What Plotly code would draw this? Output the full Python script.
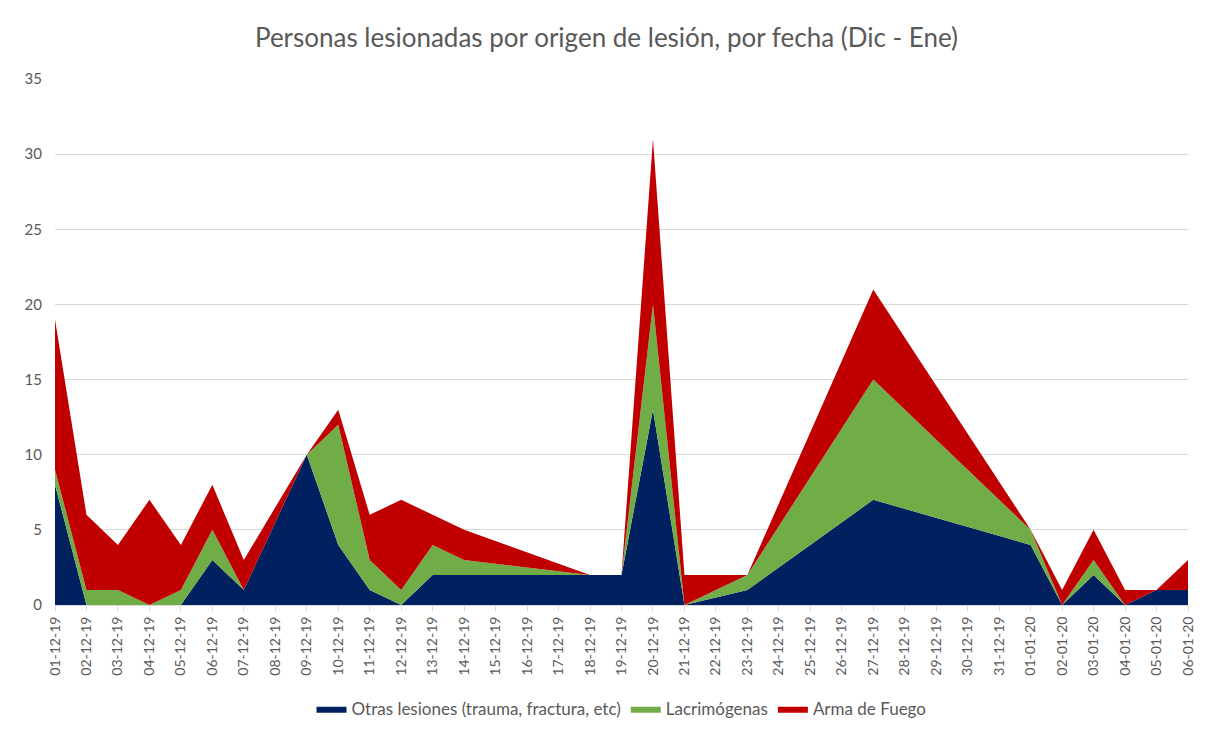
"""
Stacked area chart: injured people by origin of injury, by date (Dec - Jan)
"""

import pandas as pd
import plotly.graph_objects as go

# Dates with reported data (days without data are simply skipped on the date axis)
fechas = ['2019-12-01', '2019-12-02', '2019-12-03', '2019-12-04', '2019-12-05',
          '2019-12-06', '2019-12-07', '2019-12-09', '2019-12-10', '2019-12-11',
          '2019-12-12', '2019-12-13', '2019-12-14', '2019-12-18', '2019-12-19',
          '2019-12-20', '2019-12-21', '2019-12-23', '2019-12-27', '2020-01-01',
          '2020-01-02', '2020-01-03', '2020-01-04', '2020-01-05', '2020-01-06']

otras = [8, 0, 0, 0, 0, 3, 1, 10, 4, 1, 0, 2, 2, 2, 2, 13, 0, 1, 7, 4, 0, 2, 0, 1, 1]
lacrimogenas = [1, 1, 1, 0, 1, 2, 0, 0, 8, 2, 1, 2, 1, 0, 0, 7, 0, 1, 8, 1, 0, 1, 0, 0, 0]
arma_fuego = [10, 5, 3, 7, 3, 3, 2, 0, 1, 3, 6, 2, 2, 0, 0, 11, 2, 0, 6, 0, 1, 2, 1, 0, 2]

series = [
    ('Otras lesiones (trauma, fractura, etc)', otras, '#002060'),
    ('Lacrimógenas', lacrimogenas, '#70AD47'),
    ('Arma de Fuego', arma_fuego, '#C00000'),
]

x = pd.to_datetime(fechas)
all_days = pd.date_range(x.min(), x.max(), freq='D')

fig = go.Figure()
for name, values, color in series:
    fig.add_trace(
        go.Scatter(
            x=x,
            y=values,
            name=name,
            mode='lines',
            stackgroup='one',
            line=dict(width=0, color=color),
            fillcolor=color,
        )
    )

grey = '#595959'
fig.update_layout(
    width=1213,
    height=740,
    paper_bgcolor='white',
    plot_bgcolor='white',
    font=dict(family='Lato, Noto Sans, sans-serif', color=grey, size=13),
    title=dict(
        text='Personas lesionadas por origen de lesión, por fecha (Dic - Ene)',
        x=0.5, xanchor='center', y=0.949, yanchor='middle',
        font=dict(size=26, color=grey),
    ),
    margin=dict(l=55, r=25, t=79, b=135),
    legend=dict(
        orientation='h', x=0.5, xanchor='center', y=-0.198, yanchor='middle',
        font=dict(size=17, color=grey), traceorder='normal',
    ),
    showlegend=True,
)

fig.update_xaxes(
    range=[all_days[0], all_days[-1]],
    tickvals=all_days,
    ticktext=[d.strftime('%d-%m-%y') for d in all_days],
    tickangle=-90,
    tickfont=dict(size=14, color=grey),
    showgrid=False,
    showline=True, linecolor='#D9D9D9', linewidth=1,
    ticks='outside', ticklen=5, tickcolor='#D9D9D9',
    automargin=False,
)
fig.update_yaxes(
    range=[0, 35],
    dtick=5,
    showgrid=True, gridcolor='#D9D9D9', gridwidth=1,
    zeroline=False,
    tickfont=dict(size=15, color=grey),
    ticks='', ticklabelstandoff=12,
    automargin=False,
)

# drop the default page margin so the figure fills the window exactly
fig.write_html(
    'out.html',
    config={'displayModeBar': False},
    post_script="document.body.style.margin='0px';",
)
